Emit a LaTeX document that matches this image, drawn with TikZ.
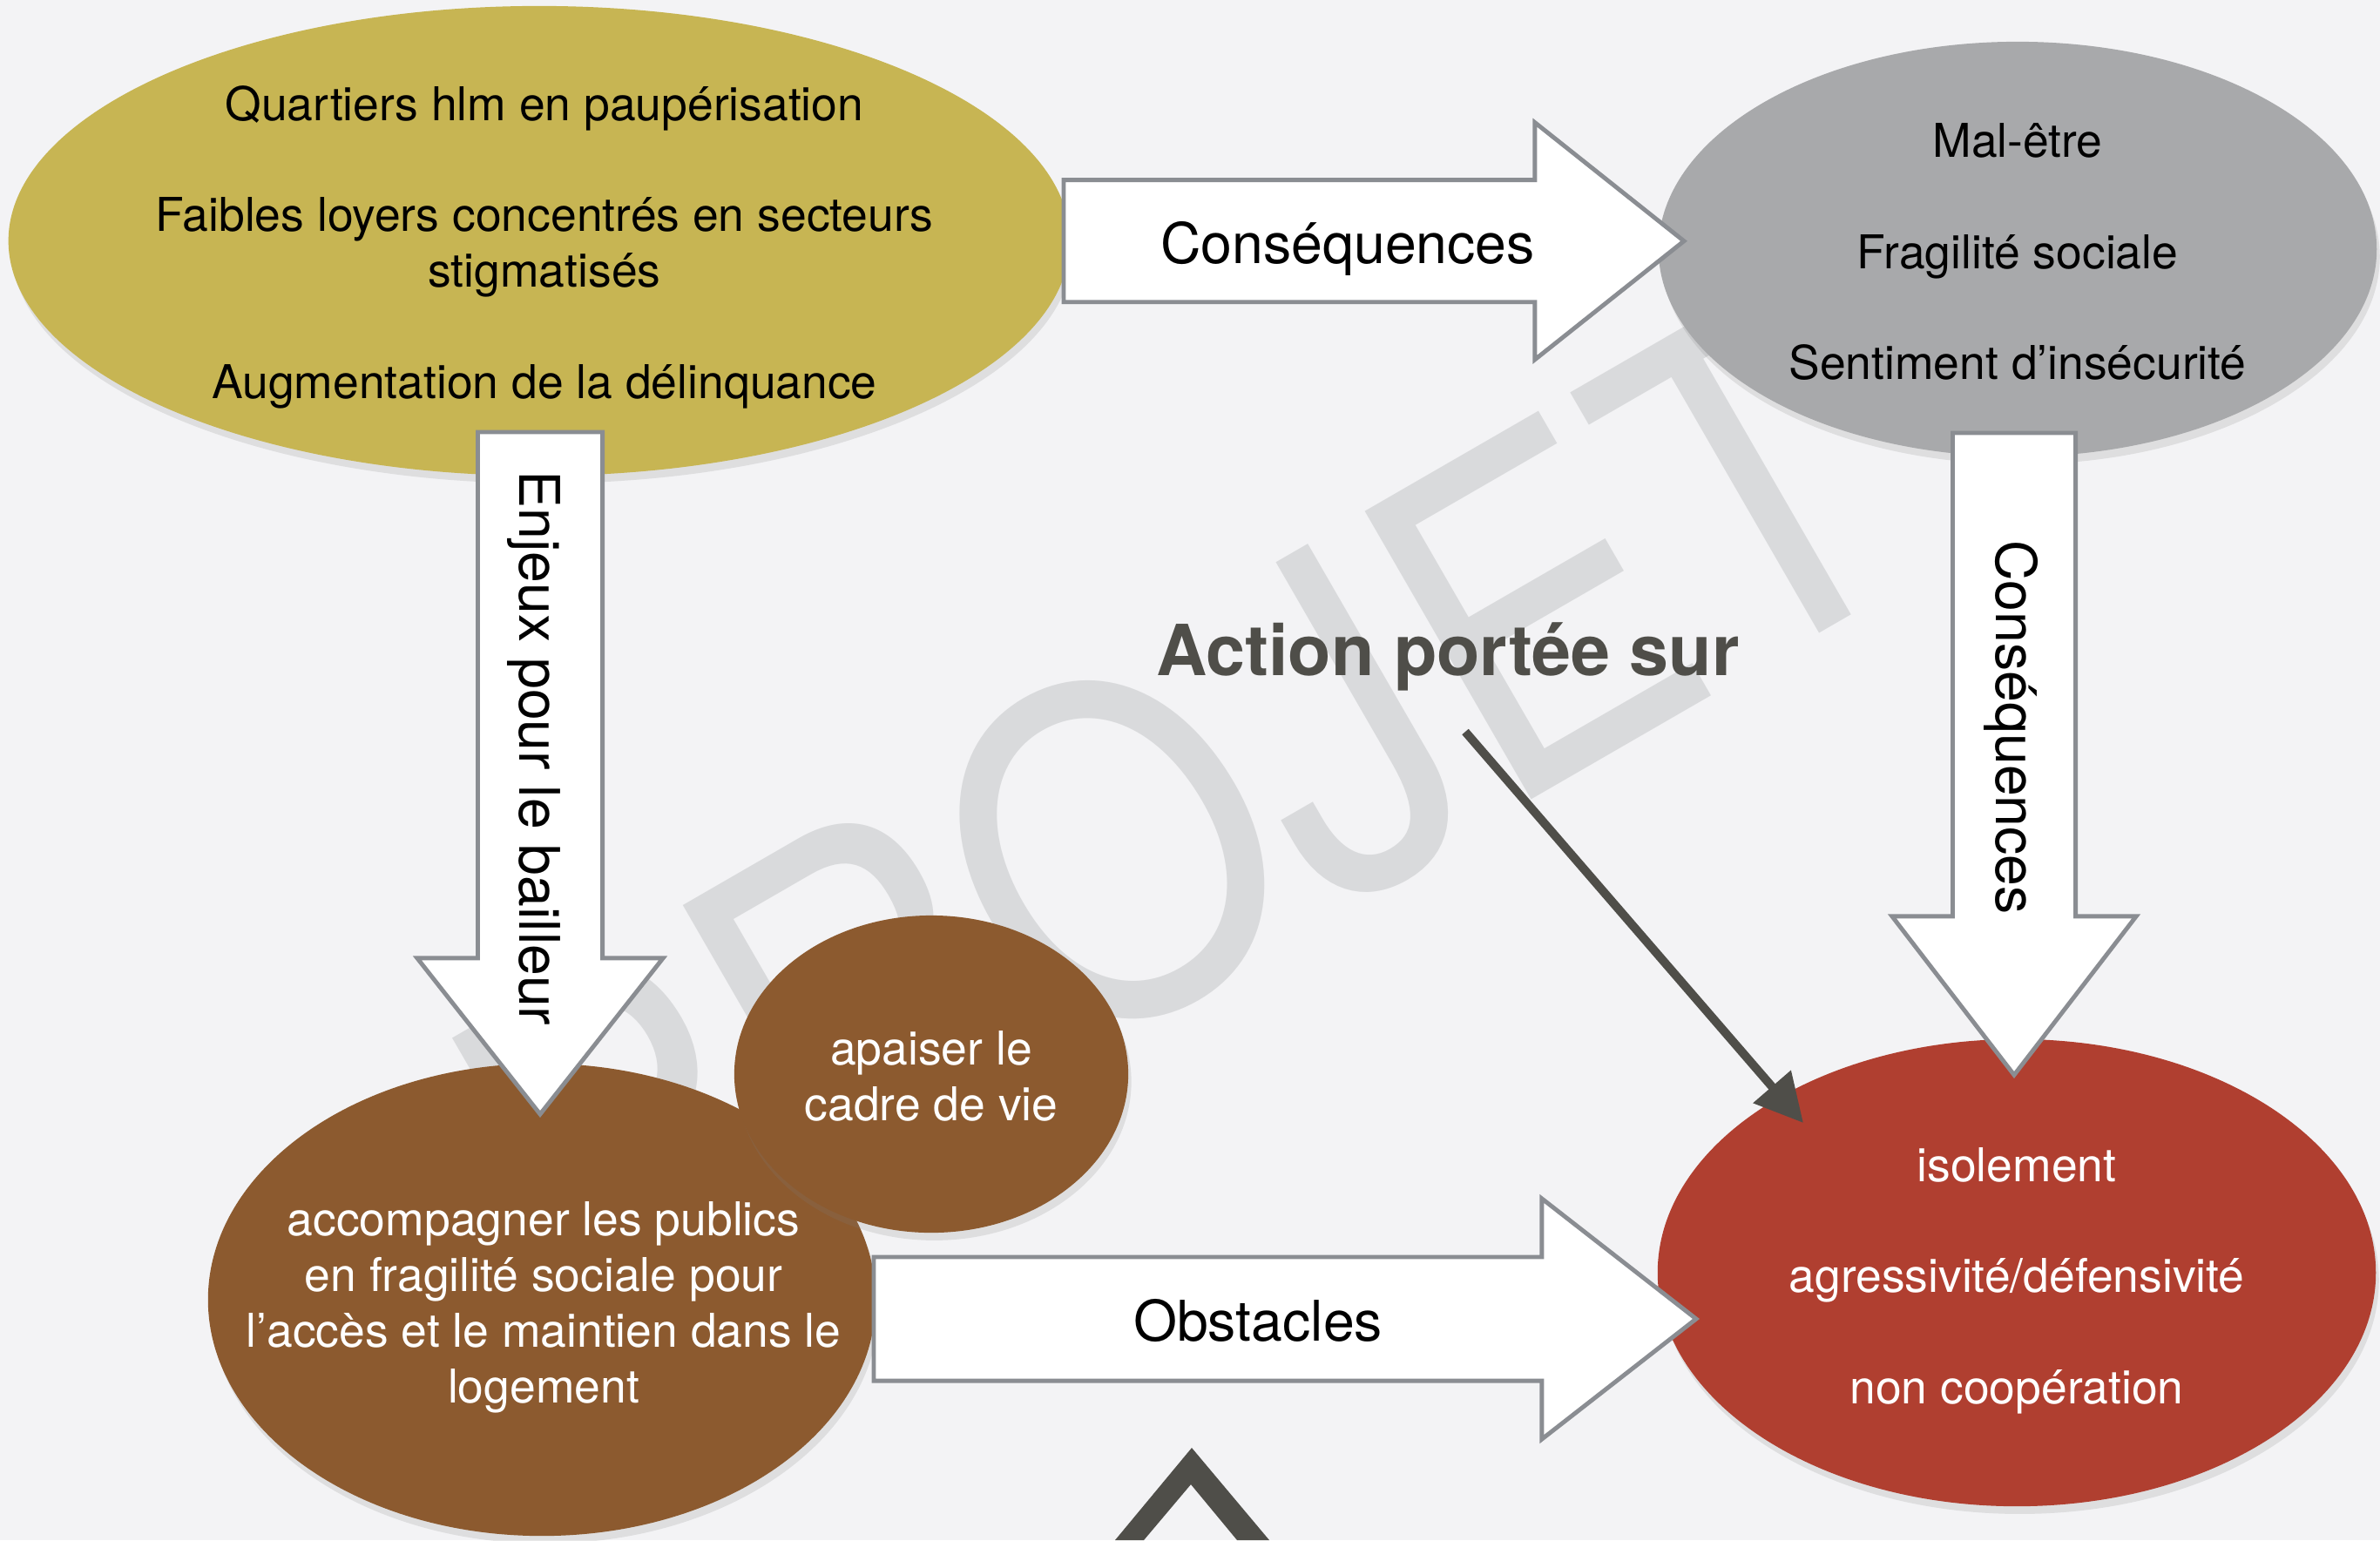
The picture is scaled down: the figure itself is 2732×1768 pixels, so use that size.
\documentclass[tikz,border=0pt]{standalone}
\usepackage{fontspec}
\setmainfont{TeX Gyre Heros}
\usetikzlibrary{shapes.geometric,calc,arrows.meta,shadows}
\definecolor{bgc}{HTML}{F3F3F5}
\definecolor{yelc}{HTML}{C7B553}
\definecolor{gryc}{HTML}{A8A9AB}
\definecolor{redc}{HTML}{B03F30}
\definecolor{brnc}{HTML}{8C5A2F}
\definecolor{strokec}{HTML}{8A8D92}
\definecolor{darkc}{HTML}{4F4E49}
\definecolor{wmc}{HTML}{D9DADC}
\tikzset{
  blob/.style={ellipse, inner sep=0pt, draw=none,
    drop shadow={shadow xshift=1pt, shadow yshift=-2.5pt, opacity=0.18}},
  fatarrow/.style={fill=white, draw=strokec, line width=1.4pt, miter limit=10},
  etext/.style={align=center, font=\fontsize{15.2}{18.15}\selectfont, inner sep=0pt},
  alabel/.style={font=\fontsize{18.3}{22}\selectfont, inner sep=0pt},
}
% #1 name, #2 tail, #3 tip, #4 half shaft, #5 half head, #6 head length
\newcommand\fatarrowpath[6]{%
  \coordinate (#1-b) at ($(#3)!#6!(#2)$);
  \draw[fatarrow] ($(#2)!#4!90:(#3)$) -- ($(#1-b)!#4!90:(#3)$) -- ($(#1-b)!#5!90:(#3)$) -- (#3)
     -- ($(#1-b)!#5!-90:(#3)$) -- ($(#1-b)!#4!-90:(#3)$) -- ($(#2)!#4!-90:(#3)$) -- cycle;
}
\begin{document}
\begin{tikzpicture}[x=0.01cm,y=-0.01cm]
\useasboundingbox (0,0) rectangle (2732,1768);
\fill[bgc] (0,0) rectangle (2732,1768);
\begin{scope}
\clip (0,0) rectangle (2732,1768);

% watermark
\node[text=wmc, rotate=30, font=\fontsize{149}{150}\selectfont, inner sep=0pt] (wm) at (1355,930) {\scalebox{0.87}[1]{PROJET}};

% ellipses
\node[blob, fill=yelc, minimum width=12.18cm, minimum height=5.39cm] (yel) at (619,276.5) {};
\node[blob, fill=gryc, minimum width=8.24cm, minimum height=4.76cm] (gry) at (2316,286) {};
\node[blob, fill=redc, minimum width=8.24cm, minimum height=5.36cm] (red) at (2315,1461) {};
\node[blob, fill=brnc, minimum width=7.66cm, minimum height=5.42cm] (brn) at (622,1492) {};
\node[blob, fill=brnc, minimum width=4.52cm, minimum height=3.64cm] (sbrn) at (1069,1233) {};

\node[etext] (yelt) at ($(yel.center)+(6,7)$) {Quartiers hlm en paupérisation\\[18.15pt]
  Faibles loyers concentrés en secteurs\\ stigmatisés\\[18.15pt]
  Augmentation de la délinquance};
\node[etext] (gryt) at ($(gry.center)+(0,3)$) {Mal-être\\[18.15pt] Fragilité sociale\\[18.15pt] Sentiment d’insécurité};
\node[etext, text=white] (redt) at ($(red.center)+(0,9)$) {isolement\\[18.15pt] agressivité/défensivité\\[18.15pt] non coopération};
\node[etext, text=white] (brnt) at ($(brn.center)+(2,9)$) {accompagner les publics\\ en fragilité sociale pour\\ l’accès et le maintien dans le\\ logement};
\node[etext, text=white] (sbrnt) at ($(sbrn.center)+(0,2)$) {apaiser le\\ cadre de vie};

% big arrows
\coordinate (a1t) at (1221,276.7); \coordinate (a1h) at (1933,276.7);
\fatarrowpath{a1}{a1t}{a1h}{0.70cm}{1.36cm}{1.71cm}
\coordinate (a2t) at (620,496); \coordinate (a2h) at (620,1279);
\fatarrowpath{a2}{a2t}{a2h}{0.715cm}{1.41cm}{1.79cm}
\coordinate (a3t) at (2312,497); \coordinate (a3h) at (2312,1234);
\fatarrowpath{a3}{a3t}{a3h}{0.705cm}{1.40cm}{1.82cm}
\coordinate (a4t) at (1003,1514); \coordinate (a4h) at (1947,1514);
\fatarrowpath{a4}{a4t}{a4h}{0.71cm}{1.38cm}{1.77cm}

\node[alabel, anchor=base] (lc1) at (1547,302) {Conséquences};
\node[alabel, rotate=-90] (lenj) at (613,859) {Enjeux pour le bailleur};
\node[alabel, rotate=-90] (lc2) at (2309,835) {Conséquences};
\node[alabel, anchor=base] (lobs) at (1444,1539) {Obstacles};

% action arrow
\node[font=\bfseries\fontsize{23}{27}\selectfont, text=darkc, anchor=base, inner sep=0pt] (act) at (1662,775) {Action portée sur};
\coordinate (actstart) at (1682,840);
\coordinate (acttip) at (2070,1289);
\draw[darkc, line width=2.8pt, -{Triangle[length=0.55cm,width=0.55cm]}] (actstart) -- (acttip);

% bottom chevron
\fill[darkc] (1280,1768) -- (1368,1662) -- (1457,1768) -- (1420,1768) -- (1367,1704) -- (1313,1768) -- cycle;
\end{scope}
\end{tikzpicture}
\end{document}
